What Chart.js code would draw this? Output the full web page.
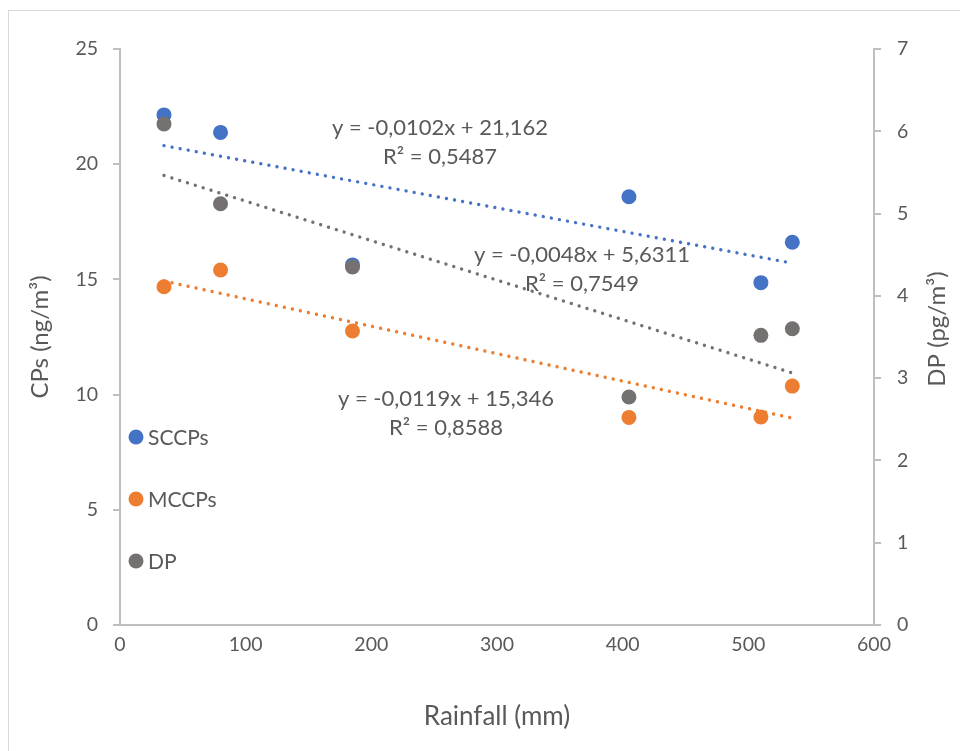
<!DOCTYPE html>
<html>
<head>
<meta charset="utf-8">
<title>CPs and DP vs rainfall</title>
<script src="https://cdn.jsdelivr.net/npm/chart.js@4.4.0/dist/chart.umd.min.js"></script>
<style>
  html, body { margin: 0; padding: 0; background: #fff; }
  #wrap { width: 960px; height: 751px; }
</style>
</head>
<body>
<div id="wrap"><canvas id="chart" width="960" height="751"></canvas></div>
<script>
// values
var rainfall = [35, 80, 185, 405, 510, 535];
var sccps = [22.14, 21.38, 15.63, 18.59, 14.86, 16.61];
var mccps = [14.68, 15.41, 12.76, 9.01, 9.03, 10.37];
var dp = [6.09, 5.12, 4.35, 2.77, 3.52, 3.60];

var seriesNames = ['SCCPs', 'MCCPs', 'DP'];
var seriesColors = ['#4472c4', '#ed7d31', '#767171'];
var seriesAxis = ['y', 'y', 'y2'];

// trendline equations as printed on the chart
var slopes = [-0.0102, -0.0119, -0.0048];
var intercepts = [21.162, 15.346, 5.6311];
var rSquared = [0.5487, 0.8588, 0.7549];
var trendRange = [35, 535];

var xTicks = [0, 600, 100];     // min, max, step
var leftTicks = [0, 25, 5];
var rightTicks = [0, 7, 1];

var textColor = '#595959';
var axisColor = '#bfbfbf';
var fontFamily = 'Lato, "Noto Sans", sans-serif';

// where the equation boxes sit (centre of first line, px)
var eqPos = [[440, 128], [446, 399], [582, 255]];

function toPoints(xs, ys) {
  return xs.map(function(x, i) { return { x: x, y: ys[i] }; });
}
function comma(v) { return String(v).replace('.', ','); }

var allValues = [sccps, mccps, dp];
var datasets = [];
allValues.forEach(function(vals, i) {
  datasets.push({
    type: 'scatter',
    label: seriesNames[i],
    data: toPoints(rainfall, vals),
    yAxisID: seriesAxis[i],
    backgroundColor: seriesColors[i],
    borderWidth: 0,
    pointRadius: 7.5,
    pointHoverRadius: 7.5,
    order: 3 - i
  });
});
allValues.forEach(function(vals, i) {
  datasets.push({
    type: 'line',
    label: seriesNames[i] + ' trend',
    data: trendRange.map(function(x) { return { x: x, y: slopes[i] * x + intercepts[i] }; }),
    yAxisID: seriesAxis[i],
    borderColor: seriesColors[i],
    borderWidth: 3.4,
    borderDash: [0.01, 8.2],
    borderCapStyle: 'round',
    pointRadius: 0,
    fill: false,
    order: 0,
    isTrend: true
  });
});

var extras = {
  id: 'extras',
  beforeDraw: function(chart) {
    var ctx = chart.ctx;
    ctx.save();
    ctx.strokeStyle = '#d9d9d9';
    ctx.lineWidth = 1;
    ctx.strokeRect(8.5, 10.5, 1200, 1200);
    ctx.restore();
  },
  afterDatasetsDraw: function(chart) {
    var ctx = chart.ctx;
    ctx.save();
    ctx.fillStyle = textColor;
    ctx.textAlign = 'center';
    ctx.textBaseline = 'middle';
    ctx.font = '22px ' + fontFamily;
    for (var i = 0; i < slopes.length; i++) {
      var sign = intercepts[i] < 0 ? ' - ' : ' + ';
      ctx.fillText('y = ' + comma(slopes[i]) + 'x' + sign + comma(Math.abs(intercepts[i])), eqPos[i][0], eqPos[i][1]);
      ctx.fillText('R\u00b2 = ' + comma(rSquared[i]), eqPos[i][0], eqPos[i][1] + 28.5);
    }

    // legend inside the plot area
    ctx.textAlign = 'left';
    ctx.font = '21px ' + fontFamily;
    var legendY = [437, 499, 561];
    chart.data.datasets.forEach(function(ds, k) {
      if (ds.isTrend) return;
      ctx.fillStyle = ds.backgroundColor;
      ctx.beginPath();
      ctx.arc(136, legendY[k], 7.5, 0, Math.PI * 2);
      ctx.fill();
      ctx.fillStyle = textColor;
      ctx.fillText(ds.label, 148, legendY[k] + 1);
    });

    // right axis title, reading bottom to top
    ctx.translate(937, 329);
    ctx.rotate(-Math.PI / 2);
    ctx.textAlign = 'center';
    ctx.font = '24px ' + fontFamily;
    ctx.fillText('DP (pg/m\u00b3)', 0, 0);
    ctx.restore();
  }
};

Chart.defaults.font.family = fontFamily;
Chart.defaults.color = textColor;

new Chart(document.getElementById('chart'), {
  type: 'scatter',
  data: { datasets: datasets },
  plugins: [extras],
  options: {
    responsive: false,
    animation: false,
    events: [],
    layout: { padding: { top: 49, left: 0, right: 0, bottom: 0 } },
    plugins: { legend: { display: false }, tooltip: { enabled: false } },
    scales: {
      x: {
        type: 'linear',
        min: xTicks[0], max: xTicks[1],
        ticks: { stepSize: xTicks[2], padding: 0, font: { size: 19.5 } },
        grid: { display: false },
        border: { display: true, color: axisColor, width: 2 },
        title: { display: true, text: 'Rainfall (mm)', font: { size: 26 }, padding: { top: 0, bottom: 19 } },
        afterFit: function(s) { s.height = 126; }
      },
      y: {
        position: 'left',
        min: leftTicks[0], max: leftTicks[1],
        ticks: { stepSize: leftTicks[2], padding: 15, font: { size: 19.5 } },
        grid: { drawOnChartArea: false, color: axisColor, lineWidth: 2, tickLength: 7 },
        border: { color: axisColor, width: 2 },
        title: { display: true, text: 'CPs (ng/m\u00b3)', font: { size: 24 }, padding: { top: 26, bottom: 0 } },
        afterFit: function(s) { s.width = 120; }
      },
      y2: {
        position: 'right',
        min: rightTicks[0], max: rightTicks[1],
        ticks: { stepSize: rightTicks[2], padding: 16, font: { size: 19.5 } },
        grid: { drawOnChartArea: false, color: axisColor, lineWidth: 2, tickLength: 7 },
        border: { color: axisColor, width: 2 },
        afterFit: function(s) { s.width = 86; }
      }
    }
  }
});
</script>
</body>
</html>
